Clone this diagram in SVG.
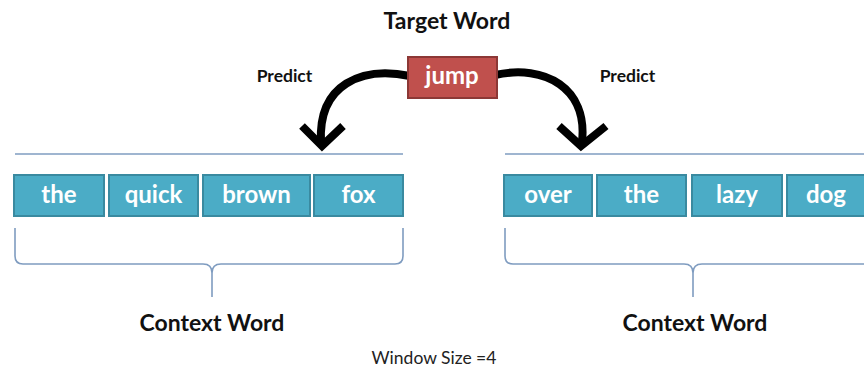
<svg xmlns="http://www.w3.org/2000/svg" width="864" height="370" viewBox="0 0 864 370">
<defs>
<style>
.bx{fill:#4bacc6;stroke:#3a8aa0;stroke-width:2}
.bt{font-family:Lato,"Liberation Sans",sans-serif;font-weight:bold;font-size:24px;fill:#fff;text-anchor:middle}
.lbl{font-family:Lato,"Liberation Sans",sans-serif;font-weight:bold;fill:#111;text-anchor:middle}
.ln{fill:none;stroke:#7f9cc0;stroke-width:1.6}
.arr{fill:none;stroke:#000;stroke-width:8}
</style>
</defs>
<rect width="864" height="370" fill="#fff"/>
<text class="lbl" x="447" y="29" font-size="23">Target Word</text>
<text class="lbl" x="284.5" y="82" font-size="17.5">Predict</text>
<text class="lbl" x="627.5" y="82" font-size="17.5">Predict</text>

<g id="connectors">
<path class="arr" d="M410,76 C362,66 318,84 321,142"/>
<polyline class="arr" points="302,126 322,146 343,126"/>
<path class="arr" d="M495,75 C545,64 588,88 582,142"/>
<polyline class="arr" points="559,126 581,146 606,126"/>
</g>

<g id="jump">
<rect x="408" y="57" width="89" height="41" fill="#c0504d" stroke="#8c3836" stroke-width="2"/>
<text class="bt" x="452" y="84">jump</text>
</g>

<g id="left-context">
<path class="ln" d="M15,154 L403,154"/>
<g id="w-the1"><rect class="bx" x="14" y="175" width="90" height="41"/><text class="bt" x="59" y="203">the</text></g>
<g id="w-quick"><rect class="bx" x="109" y="175" width="89" height="41"/><text class="bt" x="153.5" y="203">quick</text></g>
<g id="w-brown"><rect class="bx" x="203" y="175" width="107" height="41"/><text class="bt" x="256.5" y="203">brown</text></g>
<g id="w-fox"><rect class="bx" x="314" y="175" width="89" height="41"/><text class="bt" x="358.5" y="203">fox</text></g>
<path class="ln" d="M15,228 L15,256 Q15,264 23,264 L203,264 Q212,264 212,273 L212,297 M212,273 Q212,264 221,264 L395,264 Q403,264 403,256 L403,228"/>
<text class="lbl" x="212" y="331" font-size="23">Context Word</text>
</g>

<g id="right-context">
<path class="ln" d="M505,154 L893,154"/>
<g id="w-over"><rect class="bx" x="504" y="175" width="88" height="41"/><text class="bt" x="548" y="203">over</text></g>
<g id="w-the2"><rect class="bx" x="597" y="175" width="89" height="41"/><text class="bt" x="641.5" y="203">the</text></g>
<g id="w-lazy"><rect class="bx" x="692" y="175" width="90" height="41"/><text class="bt" x="737" y="203">lazy</text></g>
<g id="w-dog"><rect class="bx" x="787" y="175" width="89" height="41"/><text class="bt" x="826" y="203">dog</text></g>
<path class="ln" d="M505,228 L505,256 Q505,264 513,264 L684,264 Q693,264 693,273 L693,297 M693,273 Q693,264 702,264 L885,264 Q893,264 893,256 L893,228"/>
<text class="lbl" x="695" y="331" font-size="23">Context Word</text>
</g>

<text x="434" y="364" font-family="Lato,'Liberation Sans',sans-serif" font-size="17.5" fill="#222" text-anchor="middle">Window Size =4</text>
</svg>
